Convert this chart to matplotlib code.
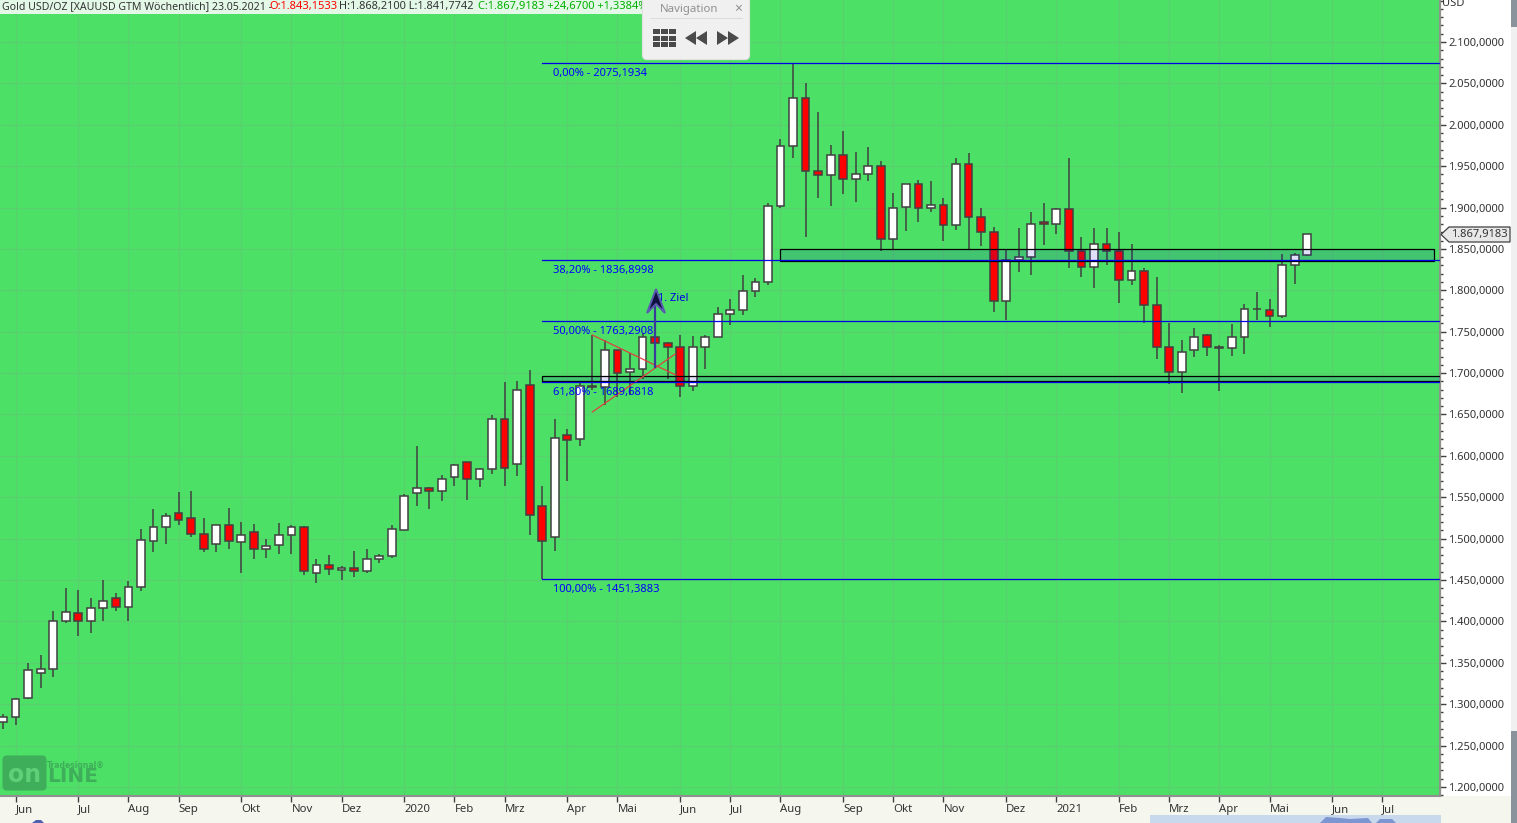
#!/usr/bin/env python3
import matplotlib

matplotlib.use("Agg")
import matplotlib.pyplot as plt
from matplotlib.patches import FancyBboxPatch, Polygon, Rectangle
from matplotlib.ticker import FixedLocator, FuncFormatter, MultipleLocator

W, H = 1517, 823
BG = "#4DE066"
GRID = "#57D06D"
CHROME = "#F5F7EF"
FONT = "Noto Sans"

opens = [
    1278, 1285, 1307, 1338, 1342, 1400, 1410, 1400, 1416, 1428,
    1418, 1441, 1497, 1514, 1531, 1525, 1506, 1494, 1516, 1496,
    1508, 1488, 1492, 1505, 1514, 1459, 1468, 1462, 1464, 1461,
    1476, 1479, 1511, 1555, 1561, 1558, 1575, 1592, 1572, 1584,
    1645, 1590, 1686, 1540, 1502, 1625, 1620, 1685, 1683, 1728,
    1701, 1705, 1743, 1736, 1731, 1684, 1731, 1743, 1771, 1776,
    1799, 1810, 1902, 1974, 2032, 1944, 1939, 1964, 1934, 1941,
    1950, 1862, 1901, 1929, 1899, 1903, 1879, 1952, 1888, 1871,
    1787, 1837, 1840, 1882, 1880, 1898, 1848, 1828, 1856, 1848,
    1812, 1823, 1782, 1732, 1701, 1728, 1746, 1732, 1730, 1743,
    1777, 1776, 1769, 1831, 1843.15,
]
closes = [
    1285, 1306, 1341, 1342, 1400, 1411, 1400, 1416, 1425, 1418,
    1441, 1498, 1514, 1527, 1522, 1506, 1488, 1517, 1497, 1505,
    1488, 1491, 1505, 1514, 1461, 1468, 1463, 1464, 1461, 1476,
    1479, 1512, 1551, 1561, 1558, 1572, 1589, 1572, 1584, 1644,
    1585, 1679, 1528, 1497, 1622, 1619, 1684, 1683, 1728, 1700,
    1705, 1743, 1736, 1731, 1684, 1731, 1743, 1771, 1776, 1799,
    1810, 1902, 1974, 2032, 1944, 1939, 1964, 1934, 1941, 1950,
    1862, 1900, 1929, 1899, 1903, 1879, 1952, 1888, 1871, 1787,
    1837, 1840, 1880, 1880, 1898, 1848, 1828, 1856, 1848, 1812,
    1823, 1782, 1732, 1701, 1725, 1744, 1732, 1730, 1743, 1777,
    1777, 1769, 1831, 1843, 1867.92,
]
highs = [
    1288, 1308, 1350, 1360, 1413, 1440, 1438, 1428, 1450, 1434,
    1449, 1512, 1536, 1531, 1556, 1558, 1525, 1517, 1537, 1520,
    1518, 1500, 1519, 1516, 1515, 1475, 1480, 1467, 1485, 1487,
    1482, 1516, 1554, 1612, 1562, 1577, 1590, 1592, 1585, 1649,
    1689, 1690, 1704, 1563, 1644, 1633, 1690, 1746, 1740, 1728,
    1724, 1749, 1745, 1737, 1746, 1745, 1746, 1780, 1789, 1818,
    1815, 1906, 1983, 2075.19, 2050, 2015, 1976, 1992, 1967, 1973,
    1956, 1917, 1929, 1933, 1932, 1911, 1960, 1966, 1899, 1876,
    1850, 1875, 1895, 1906, 1900, 1960, 1864, 1875, 1875, 1871,
    1856, 1827, 1816, 1760, 1740, 1755, 1747, 1734, 1759, 1784,
    1798, 1790, 1844, 1845, 1868.21,
]
lows = [
    1270, 1275, 1306, 1320, 1333, 1398, 1382, 1386, 1401, 1412,
    1401, 1437, 1484, 1493, 1516, 1502, 1484, 1484, 1487, 1459,
    1475, 1477, 1481, 1482, 1456, 1446, 1456, 1450, 1454, 1459,
    1471, 1477, 1511, 1540, 1536, 1546, 1563, 1547, 1562, 1578,
    1563, 1576, 1505, 1451.39, 1485, 1570, 1612, 1680, 1661, 1671,
    1674, 1693, 1707, 1693, 1671, 1678, 1705, 1743, 1758, 1770,
    1792, 1806, 1900, 1960, 1864, 1911, 1902, 1916, 1907, 1932,
    1848, 1850, 1872, 1882, 1894, 1860, 1873, 1850, 1853, 1774,
    1764, 1822, 1819, 1855, 1868, 1827, 1816, 1803, 1831, 1785,
    1807, 1761, 1717, 1687, 1676, 1719, 1721, 1678, 1721, 1723,
    1764, 1756, 1766, 1808, 1841.77,
]

month_weeks = [1, 6, 10, 14, 19, 23, 27, 32, 36, 40, 45, 49, 54,
               58, 62, 67, 71, 75, 80, 84, 89, 93, 97, 101, 106, 110]
month_labels = ["Jun", "Jul", "Aug", "Sep", "Okt", "Nov", "Dez", "2020", "Feb", "Mrz",
                "Apr", "Mai", "Jun", "Jul", "Aug", "Sep", "Okt", "Nov", "Dez", "2021",
                "Feb", "Mrz", "Apr", "Mai", "Jun", "Jul"]
price_ticks = [1200, 1250, 1300, 1350, 1400, 1450, 1500, 1550, 1600, 1650,
               1700, 1750, 1800, 1850, 1900, 1950, 2000, 2050, 2100]

fib_start = 43
fib_levels = [2075.1934, 1836.8998, 1763.2908, 1689.6818, 1451.3883]
fib_labels = ["0,00% - 2075,1934", "38,20% - 1836,8998", "50,00% - 1763,2908",
              "61,80% - 1689,6818", "100,00% - 1451,3883"]

zones = [(62, 114.1, 1835, 1849.5), (43, 116, 1690, 1696.5)]
triangle_up = ([47, 53.6], [1653, 1723])
triangle_down = ([47, 53.6], [1746, 1698])

last_close = "1.867,9183"


def px(x, y):
    """Screen pixel (from the top left) to figure fraction."""
    return x / W, 1 - y / H


def ger(value, _pos=None):
    return f"{int(value):,}".replace(",", ".") + ",0000"


def chrome_rect(fig, x0, y0, x1, y1, color, zorder=5):
    left, top = px(x0, y0)
    right, bottom = px(x1, y1)
    fig.add_artist(Rectangle((left, bottom), right - left, top - bottom,
                             transform=fig.transFigure, fc=color, ec="none", zorder=zorder))


def chrome_poly(fig, points, color, zorder=7, edge="none", lw=0):
    fig.add_artist(Polygon([px(*p) for p in points], closed=True, transform=fig.transFigure,
                           fc=color, ec=edge, lw=lw, zorder=zorder))


def chrome_text(fig, x, y, s, color="#333333", size=8, **kwargs):
    kwargs.setdefault("family", FONT)
    fx, fy = px(x, y)
    fig.text(fx, fy, s, color=color, fontsize=size, va="center", **kwargs)


fig = plt.figure(figsize=(W / 100, H / 100), dpi=100, facecolor=CHROME)
ax = fig.add_axes([0, (H - 796) / H, 1440 / W, 796 / H], facecolor=BG)

weeks = list(range(len(opens)))
step = 12.54
ax.set_xlim(-3 / step, 1437 / step)
ax.set_ylim(1189.1, 2150.7)

# candles
ax.vlines(weeks, lows, highs, color="#404040", lw=1.1, zorder=3)
colors = ["white" if c >= o else "#FF0000" for o, c in zip(opens, closes)]
ax.bar(weeks, [c - o for o, c in zip(opens, closes)], bottom=opens, width=0.62,
       color=colors, edgecolor="#404040", linewidth=1.1, zorder=4)

# support zones
for x0, x1, y0, y1 in zones:
    ax.add_patch(Rectangle((x0, y0), x1 - x0, y1 - y0, fc=(0, 0, 0.78, 0.12),
                           ec="black", lw=0.9, zorder=5))

# fibonacci levels
for level, label in zip(fib_levels, fib_labels):
    ax.plot([fib_start, 116], [level, level], color="#0000E6", lw=0.9, zorder=6)
    ax.annotate(label, (fib_start, level), xytext=(8, -8), textcoords="offset points",
                color="#0000FF", fontsize=8, family=FONT, va="center", zorder=7)

# triangle and target arrow
ax.plot(*triangle_up, color="#E04040", lw=0.9, zorder=5)
ax.plot(*triangle_down, color="#E04040", lw=0.9, zorder=5)
ax.plot([52, 52], [1707, 1785], color="#3A3A9A", lw=1.6, zorder=6)
ax.annotate("1. Ziel", (52, 1790), xytext=(2, 0), textcoords="offset points", color="#0000E6",
            fontsize=8, family=FONT, va="center", zorder=7)

# axes
ax.set_axisbelow(True)
ax.xaxis.set_major_locator(FixedLocator(month_weeks))
ax.set_xticklabels(month_labels, ha="left", family=FONT, fontsize=8.2, color="#333333")
ax.tick_params(axis="x", length=4, width=1, color="#404040", pad=2)
ax.yaxis.tick_right()
ax.yaxis.set_major_locator(FixedLocator(price_ticks))
ax.yaxis.set_minor_locator(MultipleLocator(10))
ax.yaxis.set_major_formatter(FuncFormatter(ger))
ax.tick_params(axis="y", which="major", length=4, width=1, color="#404040", pad=2,
               labelsize=8, labelcolor="#333333")
ax.tick_params(axis="y", which="minor", length=2.2, width=1, color="#404040")
for lab in ax.get_yticklabels():
    lab.set_family(FONT)
ax.grid(True, which="major", color=GRID, lw=0.9)
for side in ("top", "left"):
    ax.spines[side].set_visible(False)
for side in ("bottom", "right"):
    ax.spines[side].set_color("#909090")
    ax.spines[side].set_linewidth(1.5)

# right panel
chrome_rect(fig, 1442, 0, 1511, 796, "white", zorder=0)
chrome_rect(fig, 1511, 0, 1517, 823, "#F0F0F0", zorder=1)
chrome_rect(fig, 1511, 0, 1517, 27, "#8A929C", zorder=2)
chrome_rect(fig, 1511, 731, 1517, 823, "#8A929C", zorder=2)
chrome_text(fig, 1442, 3, "USD", size=8)

# last price tag
chrome_poly(fig, [(1441, 234.5), (1449, 227), (1510, 227), (1510, 242), (1449, 242)],
            "#E8E8E8", zorder=6, edge="#404040", lw=0.9)
chrome_text(fig, 1451, 235, last_close, size=8, zorder=7)

# bottom panel bits
chrome_rect(fig, 1150, 815, 1441, 823, "#C8D9EE", zorder=2)
chrome_poly(fig, [(1320, 823), (1326, 817), (1340, 818), (1350, 819), (1368, 818), (1372, 823)],
            "#7C96D2", zorder=3)
chrome_poly(fig, [(1376, 823), (1380, 819), (1392, 819), (1396, 823)], "#7C96D2", zorder=3)
chrome_poly(fig, [(32, 823), (36, 820), (41, 820), (44, 823)], "#5060B0", zorder=3)

# header line
chrome_rect(fig, 0, 0, 645, 14, "#E3F8E6", zorder=5)
chrome_text(fig, 2, 6.5, "Gold USD/OZ [XAUUSD GTM Wöchentlich] 23.05.2021 -", size=7.6, zorder=6)
chrome_text(fig, 269, 6.5, "O:1.843,1533", color="#FF0000", size=8, zorder=6)
chrome_text(fig, 339, 6.5, "H:1.868,2100 L:1.841,7742", size=7.9, zorder=6)
chrome_text(fig, 478, 6.5, "C:1.867,9183 +24,6700 +1,3384%", color="#00B000", size=8, zorder=6)

# navigation box
fig.add_artist(FancyBboxPatch(px(647, 55), 98 / W, 59 / H, boxstyle="round,pad=0.003",
                              transform=fig.transFigure, fc="#F0F0F0", ec="#E0E0E0",
                              lw=0.8, zorder=8, mutation_aspect=W / H))
chrome_text(fig, 689, 9.5, "Navigation", color="#909090", size=8.2, ha="center", zorder=9)
chrome_text(fig, 738, 9.5, "×", color="#909090", size=10, ha="center", weight="bold", zorder=9)
chrome_rect(fig, 650, 18, 743, 19, "#DCDCDC", zorder=9)
for gx in (653, 661, 669):
    for gy in (29, 36, 42):
        chrome_rect(fig, gx, gy, gx + 7, gy + 5, "#4A4A4A", zorder=9)
for dx in (685, 696):
    chrome_poly(fig, [(dx, 38), (dx + 11, 31), (dx + 11, 45)], "#4A4A4A", zorder=9)
for dx in (717, 728):
    chrome_poly(fig, [(dx + 11, 38), (dx, 31), (dx, 45)], "#4A4A4A", zorder=9)

# arrow head of the target marker
chrome_poly(fig, [(656, 289), (665, 313), (656, 304), (647, 313)], "#101040", zorder=6,
            edge="#5A5AB0", lw=1.4)

# watermark
fig.add_artist(FancyBboxPatch(px(7, 786), 35 / W, 26 / H, boxstyle="round,pad=0.003",
                              transform=fig.transFigure, fc="#3FAE5A", ec="none",
                              zorder=4, mutation_aspect=W / H))
chrome_text(fig, 8, 774.5, "on", color="#5FD078", size=17, weight="bold", zorder=5,
            family="DejaVu Sans")
chrome_text(fig, 47, 776.5, "LINE", color="#3FAE5A", size=14.5, weight="bold", zorder=5,
            family="DejaVu Sans")
chrome_text(fig, 47, 765, "Tradesignal®", color="#3FAE5A", size=5.5, weight="bold", zorder=5,
            family="DejaVu Sans")

fig.savefig("out.png", dpi=100, facecolor=fig.get_facecolor())
